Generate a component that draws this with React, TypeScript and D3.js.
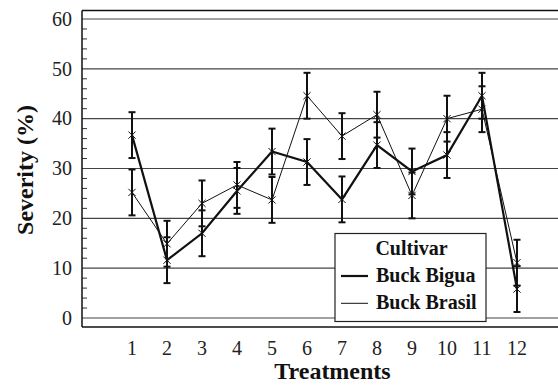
import React from "react";
import * as d3 from "d3";

const treatments = [1, 2, 3, 4, 5, 6, 7, 8, 9, 10, 11, 12];
const bigua = [36.7, 11.6, 17.0, 25.5, 33.4, 31.3, 23.8, 34.7, 29.4, 32.7, 44.6, 5.8];
const brasil = [25.2, 14.9, 23.0, 26.7, 23.7, 44.6, 36.5, 40.8, 24.6, 40.0, 41.9, 11.1];
const biguaErr = [4.6, 4.6, 4.6, 4.6, 4.6, 4.6, 4.6, 4.6, 4.6, 4.6, 4.6, 4.6];
const brasilErr = [4.6, 4.6, 4.6, 4.6, 4.6, 4.6, 4.6, 4.6, 4.6, 4.6, 4.6, 4.6];
const yTicks = [0, 10, 20, 30, 40, 50, 60];
const yMinor = d3.range(0, 61, 2).filter((v) => v % 10 !== 0);

const W = 558;
const H = 385;

export default function App() {
  const x = d3.scaleLinear().domain([1, 12]).range([132, 517]);
  const y = d3.scaleLinear().domain([0, 60]).range([318, 19]);
  const left = 82;
  const right = W;
  const top = 10.5;
  const bottom = 327;

  const series = [
    { name: "Buck Bigua", vals: bigua, err: biguaErr, w: 2.2 },
    { name: "Buck Brasil", vals: brasil, err: brasilErr, w: 1 },
  ];

  const line = (vals: number[]) =>
    d3
      .line<number>()
      .x((_, i) => x(treatments[i]))
      .y((d) => y(d))(vals) as string;

  const star = (cx: number, cy: number, key: string) => {
    const s = 3.6;
    return (
      <g key={key} stroke="#111" strokeWidth={1}>
        <line x1={cx - s} y1={cy - s} x2={cx + s} y2={cy + s} />
        <line x1={cx - s} y1={cy + s} x2={cx + s} y2={cy - s} />
        <line x1={cx} y1={cy - s - 0.6} x2={cx} y2={cy + s + 0.6} />
      </g>
    );
  };

  return (
    <svg width={W} height={H} style={{ position: "fixed", left: 0, top: 0, background: "#fff" }}>
      <style>{"text{font-family:'Liberation Serif';}"}</style>
      <rect x={0} y={0} width={W} height={H} fill="#fff" />
      {yTicks.map((t) => (
        <line key={"g" + t} x1={left} x2={right} y1={y(t)} y2={y(t)} stroke="#444" strokeWidth={1.2} />
      ))}
      {yMinor.map((t) => (
        <line key={"m" + t} x1={left} x2={left + 5} y1={y(t)} y2={y(t)} stroke="#333" strokeWidth={1} />
      ))}
      <line x1={left} x2={right} y1={top} y2={top} stroke="#111" strokeWidth={1.3} />
      <line x1={left} x2={right} y1={bottom} y2={bottom} stroke="#111" strokeWidth={1.5} />
      <line x1={left} x2={left} y1={top} y2={bottom} stroke="#111" strokeWidth={1.5} />

      {yTicks.map((t) => (
        <text key={"yl" + t} x={72} y={y(t)} dy="0.34em" textAnchor="end" fontFamily="Liberation Serif" fontSize={20} fill="#222">
          {t}
        </text>
      ))}
      {treatments.map((t) => (
        <text key={"xl" + t} x={x(t)} y={355} textAnchor="middle" fontFamily="Liberation Serif" fontSize={20} fill="#222">
          {t}
        </text>
      ))}
      <text x={332.5} y={379} textAnchor="middle" fontFamily="Liberation Serif" fontSize={24} fontWeight="bold" fill="#111">
        Treatments
      </text>
      <text
        transform={`translate(33,${170}) rotate(-90)`}
        textAnchor="middle"
        fontFamily="Liberation Serif"
        fontSize={24}
        fontWeight="bold"
        fill="#111"
      >
        Severity (%)
      </text>

      {series.map((s, si) =>
        s.vals.map((v, i) => {
          const cx = x(treatments[i]);
          const y1 = y(v + s.err[i]);
          const y2 = y(v - s.err[i]);
          return (
            <g key={`e${si}-${i}`} stroke="#111" strokeWidth={2}>
              <line x1={cx} x2={cx} y1={y1} y2={y2} />
              <line x1={cx - 3.5} x2={cx + 3.5} y1={y1} y2={y1} />
              <line x1={cx - 3.5} x2={cx + 3.5} y1={y2} y2={y2} />
            </g>
          );
        })
      )}
      {series.map((s, si) => (
        <path key={"l" + si} d={line(s.vals)} fill="none" stroke="#111" strokeWidth={s.w} />
      ))}
      {series.map((s, si) => s.vals.map((v, i) => star(x(treatments[i]), y(v), `s${si}-${i}`)))}

      <rect x={335} y={233.5} width={151} height={88} fill="#fff" stroke="#222" strokeWidth={1.2} />
      <text x={411.5} y={255} textAnchor="middle" fontFamily="Liberation Serif" fontSize={20} fontWeight="bold" fill="#111">
        Cultivar
      </text>
      {series.map((s, si) => (
        <g key={"lg" + si}>
          <line x1={341} x2={368} y1={276 + si * 27.3} y2={276 + si * 27.3} stroke="#111" strokeWidth={s.w} />
          <text x={376} y={282 + si * 27.3} fontFamily="Liberation Serif" fontSize={20} fontWeight="bold" fill="#111">
            {s.name}
          </text>
        </g>
      ))}
    </svg>
  );
}
